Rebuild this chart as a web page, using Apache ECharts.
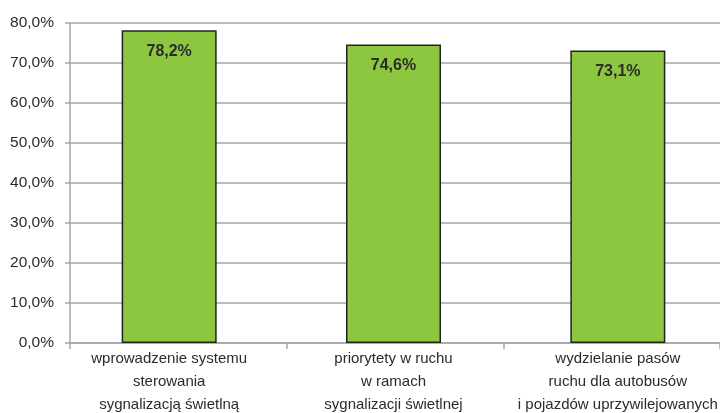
<!DOCTYPE html>
<html><head><meta charset="utf-8">
<script src="https://cdn.jsdelivr.net/npm/echarts@6/dist/echarts.min.js"></script>
<style>html,body{margin:0;padding:0;background:#fff}#c{width:720px;height:413px}</style>
</head><body><div id="c"></div>
<script>
var categories = ['wprowadzenie systemu\nsterowania\nsygnalizacją świetlną', 'priorytety w ruchu\nw ramach\nsygnalizacji świetlnej', 'wydzielanie pasów\nruchu dla autobusów\ni pojazdów uprzywilejowanych'];
var values = [78.2, 74.6, 73.1];
var yMin = 0, yMax = 80, yStep = 10;

var font = '"Liberation Sans", Arial, sans-serif';
var txt = '#2b2b2b';
var gridCol = '#a6a6a6';
var chart = echarts.init(document.getElementById('c'));
chart.setOption({
  animation: false,
  grid: [
    {left: 70, right: 0, top: 23, bottom: 70, outerBoundsMode: 'none', containLabel: false},
    {left: 57, width: 673, top: 23, bottom: 70, outerBoundsMode: 'none', containLabel: false}
  ],
  xAxis: [
    {type: 'category', gridIndex: 0, data: categories,
     axisLine: {show: true, lineStyle: {color: gridCol, width: 1.5}},
     axisTick: {show: true, length: 6, lineStyle: {color: gridCol, width: 1.5}},
     axisLabel: {show: false}},
    {type: 'category', gridIndex: 1, data: categories,
     axisLine: {show: false}, axisTick: {show: false},
     axisLabel: {show: true, color: txt, fontFamily: font, fontSize: 15, lineHeight: 23, margin: 4, interval: 0}}
  ],
  yAxis: [
    {type: 'value', gridIndex: 0, min: yMin, max: yMax, interval: yStep,
     axisLine: {show: true, lineStyle: {color: gridCol, width: 1.5}},
     axisTick: {show: true, length: 5, lineStyle: {color: gridCol, width: 1.5}},
     splitLine: {show: true, lineStyle: {color: gridCol, width: 1.5}},
     axisLabel: {color: txt, fontFamily: font, fontSize: 15.5, margin: 16,
       formatter: function (v) { return v.toFixed(1).replace('.', ',') + '%'; }}},
    {type: 'value', gridIndex: 1, min: yMin, max: yMax, interval: yStep, show: false,
     splitLine: {show: false}}
  ],
  series: [{
    type: 'bar', xAxisIndex: 1, yAxisIndex: 1, data: values, barWidth: 95,
    itemStyle: {color: '#8dc63f', borderColor: '#222', borderWidth: 1.5},
    label: {show: true, position: 'insideTop', distance: 13, color: txt, fontFamily: font,
      fontSize: 16, fontWeight: 'bold',
      formatter: function (p) { return p.value.toFixed(1).replace('.', ',') + '%'; }}
  }]
});
</script></body></html>
